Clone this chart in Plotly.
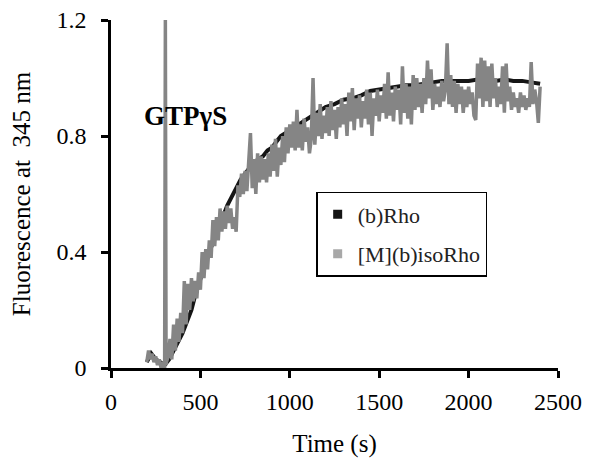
import plotly.graph_objects as go

# (b)Rho - black trace
rho_time = [200, 225, 250, 275, 300, 325, 350, 375, 400, 425,
            450, 475, 500, 525, 550, 575, 600, 625, 650, 675,
            700, 725, 750, 775, 800, 825, 850, 875, 900, 925,
            950, 975, 1000, 1050, 1100, 1150, 1200, 1250, 1300, 1350,
            1400, 1450, 1500, 1550, 1600, 1650, 1700, 1750, 1800, 1850,
            1900, 1950, 2000, 2050, 2100, 2150, 2200, 2250, 2300, 2350, 2400]
rho_fluor = [0.02, 0.05, 0.03, 0.02, 0.01, 0.03, 0.06, 0.09, 0.12, 0.16,
             0.20, 0.26, 0.31, 0.36, 0.40, 0.44, 0.48, 0.52, 0.56, 0.59,
             0.62, 0.65, 0.67, 0.69, 0.71, 0.72, 0.73, 0.75, 0.76, 0.78,
             0.80, 0.81, 0.82, 0.84, 0.86, 0.88, 0.90, 0.91, 0.925, 0.93,
             0.94, 0.955, 0.96, 0.965, 0.97, 0.975, 0.975, 0.98, 0.985, 0.99,
             0.99, 0.99, 0.99, 0.995, 0.99, 0.99, 0.995, 0.99, 0.99, 0.985, 0.98]

# [M](b)isoRho - grey trace, sampled every 10 s, with the GTPyS injection spike
iso_time = list(range(200, 301, 10)) + [304, 308] + list(range(310, 2401, 10))
iso_fluor = [0.02, 0.06, 0.03, 0.05, 0.02, 0.04, 0.01, 0.03, 0.00, 0.02, 0.00,
             1.20, 0.01,
             0.02, 0.04, 0.10, 0.03, 0.15, 0.06, 0.17, 0.09, 0.19, 0.12,
             0.30, 0.15, 0.29, 0.20, 0.31, 0.23, 0.30, 0.24, 0.33, 0.27,
             0.40, 0.31, 0.41, 0.34, 0.44, 0.38, 0.51, 0.42, 0.52, 0.44,
             0.55, 0.47, 0.54, 0.48, 0.56, 0.50, 0.55, 0.48, 0.52, 0.47,
             0.63, 0.59, 0.67, 0.60, 0.68, 0.61, 0.70, 0.81, 0.62, 0.72,
             0.60, 0.74, 0.64, 0.73, 0.65, 0.72, 0.64, 0.74, 0.66, 0.77,
             0.68, 0.79, 0.66, 0.76, 0.70, 0.80, 0.71, 0.83, 0.74, 0.84,
             0.76, 0.85, 0.75, 0.89, 0.76, 0.84, 0.75, 0.86, 0.78, 0.83,
             0.74, 0.79, 1.00, 0.77, 0.88, 0.80, 0.91, 0.79, 0.87, 0.81,
             0.90, 0.80, 0.92, 0.82, 0.89, 0.79, 0.90, 0.83, 0.93, 0.84,
             0.91, 0.80, 0.95, 0.85, 0.965, 0.82, 0.93, 0.86, 0.94, 0.83,
             0.92, 0.86, 0.96, 0.84, 0.95, 0.80, 0.93, 0.87, 0.96, 0.85,
             0.94, 0.88, 0.98, 0.86, 1.02, 0.87, 0.95, 0.85, 0.97, 0.89,
             0.96, 0.84, 1.04, 0.88, 0.98, 0.86, 0.97, 0.84, 1.01, 0.89,
             1.00, 0.90, 0.98, 0.88, 1.00, 0.91, 1.06, 0.93, 1.03, 0.89,
             0.98, 0.91, 0.97, 0.90, 0.99, 0.92, 0.96, 1.12, 0.91, 1.01,
             0.90, 0.99, 0.88, 0.98, 0.91, 0.97, 0.88, 0.96, 0.90, 0.97,
             0.91, 0.95, 0.87, 0.855, 1.05, 0.93, 1.07, 0.90, 1.06, 0.92,
             1.04, 0.90, 1.05, 0.93, 1.00, 0.90, 0.97, 0.91, 1.04, 0.88,
             1.05, 0.92, 0.97, 0.89, 0.95, 0.90, 0.93, 0.88, 0.95, 0.90,
             0.94, 0.89, 0.93, 0.90, 1.055, 0.91, 0.96, 0.92, 0.845, 0.97]

serif = "Liberation Serif, Times New Roman, serif"

fig = go.Figure()

fig.add_trace(go.Scatter(x=rho_time, y=rho_fluor, mode='lines',
                         line=dict(color='#151515', width=4), showlegend=False))
fig.add_trace(go.Scatter(x=iso_time, y=iso_fluor, mode='lines',
                         line=dict(color='#858585', width=3.5), showlegend=False))

# legend entries drawn as squares
fig.add_trace(go.Scatter(x=[None], y=[None], mode='markers', name='(b)Rho', legendgroup='a',
                         marker=dict(symbol='square', size=9, color='#151515')))
fig.add_trace(go.Scatter(x=[None], y=[None], mode='markers', name='[M](b)isoRho', legendgroup='b',
                         marker=dict(symbol='square', size=9, color='#a8a8a8')))

fig.add_annotation(x=414, y=0.87, text='<b>GTP\u03b3S</b>', showarrow=False,
                   font=dict(family=serif, size=27, color='black'))

fig.update_layout(
    width=600, height=471,
    margin=dict(l=103, r=50, t=12, b=111),
    plot_bgcolor='white', paper_bgcolor='white',
    font=dict(family=serif, size=24, color='black'),
    legend=dict(x=0.459, y=0.506, xanchor='left', yanchor='top',
                bordercolor='black', borderwidth=1.5, bgcolor='white',
                font=dict(family=serif, size=22, color='#222'),
                tracegroupgap=8, itemwidth=30),
)
fig.update_xaxes(range=[0, 2500], dtick=500, showline=True, linecolor='black', linewidth=2.5,
                 ticks='outside', tickwidth=2.5, ticklen=7, tickcolor='black',
                 showgrid=False, zeroline=False, ticklabelstandoff=3, automargin=False,
                 ticklabeloverflow='allow',
                 title=dict(text='Time (s)', font=dict(size=25), standoff=21))
fig.update_yaxes(range=[0, 1.2], dtick=0.4, showline=True, linecolor='black', linewidth=2.5,
                 ticks='outside', tickwidth=2.5, ticklen=7, tickcolor='black',
                 showgrid=False, zeroline=False, ticklabelstandoff=10, automargin=False,
                 ticklabeloverflow='allow',
                 title=dict(text='Fluorescence at  345 nm', font=dict(size=25), standoff=20))

fig.write_html("out.html")
